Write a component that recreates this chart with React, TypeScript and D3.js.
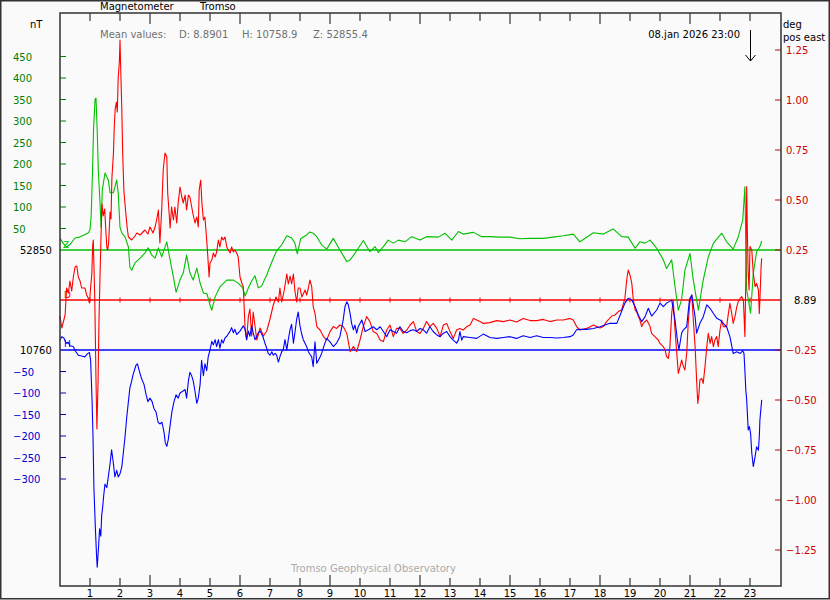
import React from 'react';
import * as d3 from 'd3';

// ---------- data ----------
const hourTicks: number[] = d3.range(1, 24);
const zTicks: number[] = [50, 100, 150, 200, 250, 300, 350, 400, 450];
const hTicks: number[] = [-50, -100, -150, -200, -250, -300];
const dTicks: number[] = [1.25, 1.0, 0.75, 0.5, 0.25, -0.25, -0.5, -0.75, -1.0, -1.25];

const zBaseline = '52850';
const hBaseline = '10760';
const dBaseline = '8.89';
const meanD = '8.8901';
const meanH = '10758.9';
const meanZ = '52855.4';
const stampText = '08.jan 2026 23:00';
const stampHour = 23;

// Z deviation from 52850 nT  [hour, nT]
const zSeries: [number, number][] = [
  [0, 28], [0.1, 16], [0.22, 7], [0.35, 14], [0.5, 28], [0.65, 30], [0.8, 35], [0.95, 40], [1, 47], [1.04, 81],
  [1.08, 174], [1.12, 284], [1.17, 351], [1.2, 353], [1.24, 279], [1.28, 179], [1.33, 116], [1.37, 53], [1.41, 140],
  [1.5, 179], [1.61, 163], [1.67, 133], [1.78, 133], [1.89, 163], [1.94, 133], [2, 53], [2.06, 40], [2.17, 30],
  [2.28, 7], [2.33, -40], [2.39, -47], [2.5, -30], [2.67, -19], [2.83, -7], [2.94, 5], [3.06, -12], [3.17, -19],
  [3.28, 5], [3.39, -16], [3.56, 19], [3.67, -23], [3.78, -63], [3.87, -98], [4, -70], [4.11, -53], [4.22, -12],
  [4.33, -53], [4.44, -70], [4.56, -42], [4.67, -77], [4.78, -100], [4.9, -102], [5, -128], [5.06, -140],
  [5.17, -109], [5.33, -86], [5.56, -70], [5.78, -70], [5.94, -77], [6.09, -88], [6.17, -107], [6.28, -88],
  [6.39, -72], [6.5, -60], [6.61, -88], [6.72, -84], [6.89, -58], [7.06, -28], [7.22, -2], [7.39, 12], [7.56, 33],
  [7.72, 28], [7.83, 16], [7.91, -9], [8.02, 26], [8.22, 35], [8.33, 42], [8.44, 39], [8.56, 31], [8.72, 12],
  [8.89, 2], [9.11, 27], [9.33, 0], [9.56, -27], [9.67, -23], [9.83, -8], [10.11, 22], [10.33, -4], [10.5, 8],
  [10.61, -6], [10.78, 8], [10.94, 23], [11.11, 16], [11.28, 23], [11.5, 19], [11.72, 31], [12, 23], [12.22, 31],
  [12.61, 30], [12.83, 39], [13.06, 23], [13.28, 43], [13.44, 37], [13.78, 41], [14.06, 31], [14.33, 31],
  [14.67, 30], [15, 30], [15.33, 26], [15.67, 27], [16.11, 27], [16.44, 30], [16.78, 33], [17.11, 37], [17.33, 19],
  [17.78, 40], [18.11, 37], [18.44, 49], [18.72, 31], [18.94, 30], [19.17, 4], [19.33, 19], [19.5, 16], [19.67, 23],
  [19.89, 4], [20.11, -23], [20.22, -43], [20.39, -23], [20.5, -85], [20.61, -140], [20.72, -116], [20.83, -47],
  [21, -8], [21.11, -70], [21.28, -140], [21.44, -70], [21.61, -16], [21.78, 16], [22.06, 39], [22.22, 19],
  [22.44, 2], [22.61, 31], [22.76, 70], [22.83, 147], [22.89, -93], [23.02, -147], [23.11, -54], [23.22, -4],
  [23.33, 8], [23.39, 21],
];

// D deviation from 8.89 deg [hour, deg]
const dSeries: [number, number][] = [
  [0, -0.08], [0.06, -0.14], [0.17, -0.075], [0.22, 0.06], [0.28, 0.035], [0.33, 0.095], [0.39, 0.045], [0.44, 0.11],
  [0.5, 0.165], [0.56, 0.17], [0.61, 0.115], [0.67, 0.095], [0.72, 0.06], [0.83, 0.06], [0.89, 0.025], [0.94, 0.01],
  [0.98, -0.015], [1.02, 0.06], [1.06, 0.13], [1.09, 0.275], [1.11, 0.3], [1.16, 0], [1.2, -0.4], [1.23, -0.645],
  [1.27, -0.4], [1.3, -0.1], [1.33, 0.095], [1.37, 0.335], [1.4, 0.48], [1.44, 0.42], [1.49, 0.455], [1.52, 0.37],
  [1.56, 0.265], [1.59, 0.25], [1.62, 0.285], [1.67, 0.44], [1.7, 0.405], [1.73, 0.61], [1.78, 0.73], [1.81, 0.87],
  [1.84, 0.955], [1.88, 0.99], [1.91, 0.94], [1.94, 1.11], [1.98, 1.195], [2, 1.3], [2.02, 1.18], [2.06, 0.955],
  [2.09, 0.73], [2.13, 0.545], [2.19, 0.44], [2.24, 0.36], [2.28, 0.315], [2.39, 0.3], [2.5, 0.32], [2.56, 0.335],
  [2.67, 0.325], [2.83, 0.35], [2.93, 0.33], [3, 0.365], [3.1, 0.335], [3.17, 0.365], [3.22, 0.4], [3.28, 0.45],
  [3.33, 0.285], [3.39, 0.45], [3.44, 0.65], [3.5, 0.735], [3.56, 0.715], [3.59, 0.535], [3.63, 0.45], [3.67, 0.36],
  [3.72, 0.465], [3.78, 0.4], [3.83, 0.465], [3.89, 0.385], [3.94, 0.485], [4, 0.565], [4.06, 0.515], [4.11, 0.485],
  [4.17, 0.525], [4.22, 0.45], [4.28, 0.525], [4.33, 0.515], [4.39, 0.465], [4.44, 0.425], [4.5, 0.385],
  [4.56, 0.415], [4.61, 0.365], [4.64, 0.55], [4.69, 0.6], [4.73, 0.485], [4.78, 0.4], [4.83, 0.415], [4.89, 0.3],
  [4.92, 0.235], [4.97, 0.115], [5, 0.185], [5.06, 0.2], [5.11, 0.235], [5.17, 0.215], [5.22, 0.24], [5.28, 0.3],
  [5.33, 0.265], [5.39, 0.315], [5.44, 0.3], [5.5, 0.315], [5.56, 0.265], [5.61, 0.25], [5.67, 0.235], [5.72, 0.265],
  [5.78, 0.24], [5.83, 0.25], [5.89, 0.235], [5.94, 0.215], [6, 0.115], [6.06, 0.085], [6.11, 0.065], [6.17, -0.145],
  [6.22, -0.2], [6.28, -0.08], [6.33, -0.045], [6.39, -0.18], [6.44, -0.06], [6.5, -0.13], [6.56, -0.2],
  [6.67, -0.14], [6.78, -0.18], [6.89, -0.155], [7, -0.095], [7.11, -0.025], [7.2, 0.015], [7.28, -0.01],
  [7.33, 0.06], [7.39, -0.01], [7.47, 0.045], [7.56, 0.13], [7.61, 0.08], [7.67, 0.12], [7.72, 0.08], [7.78, 0.13],
  [7.83, 0.045], [7.89, -0.01], [7.94, 0.06], [8, 0.06], [8.06, 0.015], [8.17, 0.05], [8.22, 0.025], [8.28, 0.06],
  [8.33, 0.1], [8.39, 0.067], [8.44, -0.033], [8.5, -0.067], [8.56, -0.133], [8.67, -0.15], [8.78, -0.183],
  [8.89, -0.2], [9, -0.158], [9.11, -0.133], [9.22, -0.142], [9.33, -0.125], [9.44, -0.133], [9.56, -0.167],
  [9.67, -0.258], [9.78, -0.233], [9.89, -0.258], [10, -0.2], [10.11, -0.133], [10.22, -0.083], [10.33, -0.108],
  [10.44, -0.158], [10.56, -0.167], [10.67, -0.2], [10.78, -0.208], [10.89, -0.15], [11, -0.125], [11.11, -0.183],
  [11.22, -0.142], [11.33, -0.142], [11.44, -0.167], [11.56, -0.15], [11.67, -0.125], [11.78, -0.108],
  [11.89, -0.158], [12, -0.167], [12.11, -0.142], [12.22, -0.108], [12.33, -0.133], [12.44, -0.117],
  [12.56, -0.142], [12.67, -0.183], [12.78, -0.125], [12.89, -0.117], [13, -0.158], [13.11, -0.192], [13.22, -0.15],
  [13.33, -0.142], [13.44, -0.15], [13.56, -0.133], [13.67, -0.125], [13.78, -0.092], [13.89, -0.1], [14, -0.108],
  [14.11, -0.117], [14.33, -0.113], [14.56, -0.103], [14.78, -0.108], [15, -0.1], [15.22, -0.11], [15.44, -0.092],
  [15.67, -0.103], [15.89, -0.103], [16.11, -0.097], [16.33, -0.108], [16.56, -0.1], [16.78, -0.1], [17, -0.092],
  [17.11, -0.1], [17.22, -0.133], [17.33, -0.15], [17.56, -0.142], [17.78, -0.125], [18, -0.14], [18.11, -0.133],
  [18.22, -0.108], [18.39, -0.08], [18.5, -0.075], [18.61, -0.058], [18.72, -0.05], [18.83, 0.008], [18.89, 0.1],
  [18.94, 0.15], [19, 0.125], [19.06, 0.083], [19.11, 0], [19.17, -0.05], [19.22, -0.058], [19.28, -0.083],
  [19.33, -0.1], [19.39, -0.133], [19.44, -0.117], [19.56, -0.1], [19.67, -0.133], [19.72, -0.167], [19.83, -0.183],
  [19.94, -0.2], [20, -0.217], [20.11, -0.233], [20.17, -0.25], [20.22, -0.283], [20.28, -0.292], [20.33, -0.233],
  [20.39, -0.067], [20.44, 0], [20.5, -0.15], [20.56, -0.267], [20.61, -0.367], [20.67, -0.333], [20.72, -0.3],
  [20.78, -0.333], [20.83, -0.35], [20.89, -0.267], [20.94, -0.117], [21, 0], [21.06, 0.025], [21.11, -0.1],
  [21.17, -0.233], [21.22, -0.4], [21.26, -0.517], [21.3, -0.467], [21.33, -0.4], [21.39, -0.392], [21.44, -0.417],
  [21.5, -0.333], [21.56, -0.233], [21.61, -0.167], [21.67, -0.217], [21.72, -0.183], [21.78, -0.233], [21.83, -0.2],
  [21.89, -0.183], [21.94, -0.233], [22, -0.15], [22.06, -0.1], [22.11, -0.133], [22.22, -0.133], [22.28, -0.067],
  [22.33, -0.017], [22.39, -0.067], [22.44, -0.117], [22.5, -0.083], [22.56, -0.033], [22.61, -0.008], [22.67, 0.008],
  [22.72, 0.017], [22.78, 0], [22.83, -0.183], [22.86, 0.1], [22.89, 0.567], [22.91, 0.35], [22.94, 0.133],
  [22.97, 0.05], [23, 0.267], [23.06, 0.25], [23.11, 0.133], [23.17, 0.067], [23.22, 0.083], [23.28, 0.05],
  [23.31, -0.067], [23.33, 0], [23.37, 0.167], [23.39, 0.208],
];

// H deviation from 10760 nT [hour, nT]
const hSeries: [number, number][] = [
  [0, 23], [0.06, 31], [0.13, 28], [0.2, 16], [0.28, 18], [0.33, 10], [0.44, 8], [0.53, -4], [0.61, -12], [0.72, -14],
  [0.83, -16], [0.91, -9], [0.98, -6], [1.02, -23], [1.07, -120], [1.1, -200], [1.13, -320], [1.18, -416],
  [1.22, -480], [1.24, -505], [1.28, -464], [1.32, -416], [1.36, -433], [1.39, -384], [1.42, -367], [1.46, -336],
  [1.5, -312], [1.56, -320], [1.61, -295], [1.67, -264], [1.72, -232], [1.78, -264], [1.83, -295], [1.89, -280],
  [1.94, -295], [2, -288], [2.06, -272], [2.11, -240], [2.17, -200], [2.22, -160], [2.28, -120], [2.33, -88],
  [2.39, -72], [2.44, -56], [2.53, -36], [2.58, -32], [2.64, -48], [2.72, -67], [2.8, -80], [2.87, -104],
  [2.93, -120], [3, -112], [3.07, -120], [3.13, -136], [3.2, -144], [3.27, -168], [3.33, -172], [3.4, -168],
  [3.47, -192], [3.51, -216], [3.56, -224], [3.61, -208], [3.67, -176], [3.73, -144], [3.8, -120], [3.87, -104],
  [3.94, -112], [4, -100], [4.09, -96], [4.17, -92], [4.22, -112], [4.28, -72], [4.33, -52], [4.39, -60],
  [4.44, -72], [4.5, -96], [4.56, -124], [4.61, -112], [4.67, -80], [4.72, -24], [4.78, -60], [4.83, -32],
  [4.89, -48], [4.94, -16], [5, 0], [5.06, 20], [5.11, 12], [5.17, 24], [5.22, 8], [5.28, 24], [5.33, 4], [5.39, 24],
  [5.44, 16], [5.5, 28], [5.56, 32], [5.67, 44], [5.72, 52], [5.78, 40], [5.83, 48], [5.89, 36], [6, 44],
  [6.11, 56], [6.17, 48], [6.22, 24], [6.28, 44], [6.33, 32], [6.39, 56], [6.44, 40], [6.5, 24], [6.56, 32],
  [6.61, 40], [6.67, 44], [6.76, 32], [6.83, 16], [6.89, 4], [6.94, -8], [7, -12], [7.06, -4], [7.11, -12],
  [7.17, -8], [7.22, -12], [7.28, -28], [7.33, -16], [7.39, -4], [7.44, 0], [7.5, 24], [7.56, 0], [7.61, 24],
  [7.67, 48], [7.72, 60], [7.78, 16], [7.83, 40], [7.89, 72], [7.94, 88], [8, 56], [8.06, 36], [8.11, 24],
  [8.22, 8], [8.28, -4], [8.33, -10], [8.39, -16], [8.44, -39], [8.5, 19], [8.56, -31], [8.67, -16], [8.72, -8],
  [8.83, 16], [8.89, 27], [9, 19], [9.11, 8], [9.22, 16], [9.33, 31], [9.44, 70], [9.5, 101], [9.56, 112],
  [9.61, 105], [9.67, 85], [9.72, 62], [9.78, 47], [9.83, 58], [9.89, 39], [9.94, 54], [10.06, 70], [10.17, 43],
  [10.28, 47], [10.44, 54], [10.56, 47], [10.67, 54], [10.78, 43], [10.89, 31], [11, 47], [11.11, 43], [11.22, 39],
  [11.33, 54], [11.44, 43], [11.56, 40], [11.67, 45], [11.78, 47], [11.89, 43], [12, 50], [12.11, 47], [12.22, 39],
  [12.33, 54], [12.44, 43], [12.56, 35], [12.67, 31], [12.78, 39], [12.89, 43], [13, 31], [13.11, 23], [13.22, 16],
  [13.28, 23], [13.33, 43], [13.39, 23], [13.44, 31], [13.67, 29], [13.89, 27], [14.11, 37], [14.33, 29],
  [14.56, 27], [14.78, 29], [15, 31], [15.22, 27], [15.44, 33], [15.67, 29], [15.89, 33], [16.11, 29], [16.33, 29],
  [16.56, 28], [16.78, 29], [17, 31], [17.11, 35], [17.22, 47], [17.33, 48], [17.56, 48], [17.78, 50], [18, 54],
  [18.33, 62], [18.56, 62], [18.67, 81], [18.83, 109], [18.94, 120], [19.06, 116], [19.17, 101], [19.28, 81],
  [19.39, 66], [19.5, 77], [19.61, 97], [19.72, 79], [19.89, 93], [20, 109], [20.11, 101], [20.22, 109],
  [20.39, 116], [20.5, 70], [20.58, 23], [20.63, 0], [20.72, 39], [20.78, 47], [20.89, 54], [20.98, 116],
  [21.06, 128], [21.17, 77], [21.22, 39], [21.33, 62], [21.44, 77], [21.56, 105], [21.67, 97], [21.78, 85],
  [21.89, 74], [22, 70], [22.11, 62], [22.22, 54], [22.33, 31], [22.44, -8], [22.56, -4], [22.67, -8], [22.76, -2],
  [22.8, -8], [22.83, -47], [22.86, -93], [22.89, -116], [22.94, -186], [22.98, -178], [23.02, -194], [23.06, -240],
  [23.11, -271], [23.17, -248], [23.22, -225], [23.28, -233], [23.31, -202], [23.33, -163], [23.39, -116],
];

// ---------- layout ----------
const W = 830;
const H = 600;
const left = 60;
const right = 781;
const top = 13;
const bottom = 586;

const x = d3.scaleLinear().domain([0, 24]).range([60, 780]);
const yZ = d3.scaleLinear().domain([0, 450]).range([250, 56.5]);
const yH = d3.scaleLinear().domain([0, -300]).range([350, 479]);
const yD = d3.scaleLinear().domain([0, 1]).range([300, 100]);

const FONT = 'DejaVu Sans, sans-serif';
const GREEN = '#00c000';
const GREEN_TXT = '#008000';
const RED = '#ff0000';
const RED_TXT = '#d00000';
const BLUE = '#0000ff';
const BLUE_TXT = '#0000d0';
const FRAME = '#333333';

const fmtD = d3.format('.2f');

export default function App() {
  const lineZ = d3.line<[number, number]>().x((d) => x(d[0])).y((d) => yZ(d[1]));
  const lineD = d3.line<[number, number]>().x((d) => x(d[0])).y((d) => yD(d[1]));
  const lineH = d3.line<[number, number]>().x((d) => x(d[0])).y((d) => yH(d[1]));

  return (
    <div style={{ position: 'absolute', left: 0, top: 0 }}>
      <svg width={W} height={H} style={{ display: 'block', fontFamily: FONT }}>
        <rect x={0} y={0} width={W} height={H} fill="#fafafa" />
        <rect x={0.75} y={0.75} width={W - 1.5} height={H - 2} fill="none" stroke={FRAME} strokeWidth={1.5} />

        {/* titles */}
        <text x={100} y={10} fontSize={10} fill="#000">Magnetometer</text>
        <text x={200} y={10} fontSize={10} fill="#000">Tromso</text>
        <text x={30} y={28} fontSize={10} fill="#000">nT</text>
        <text x={783} y={28} fontSize={10} fill="#000">deg</text>
        <text x={783} y={41} fontSize={10} fill="#000">pos east</text>

        <text x={100} y={38} fontSize={10} fill="#707070">Mean values:</text>
        <text x={179} y={38} fontSize={10} fill="#707070">{`D: ${meanD}`}</text>
        <text x={242} y={38} fontSize={10} fill="#707070">{`H: ${meanH}`}</text>
        <text x={313} y={38} fontSize={10} fill="#707070">{`Z: ${meanZ}`}</text>
        <text x={740} y={38} fontSize={10} fill="#000" textAnchor="end">{stampText}</text>

        {/* arrow at stamp hour */}
        <g stroke="#000" strokeWidth={1} fill="none">
          <line x1={x(stampHour) + 0.5} y1={30} x2={x(stampHour) + 0.5} y2={61} />
          <polyline points={`${x(stampHour) - 4.5},55 ${x(stampHour) + 0.5},61 ${x(stampHour) + 5.5},55`} />
        </g>

        <text x={291} y={572} fontSize={10} fill="#aaaaaa">Tromso Geophysical Observatory</text>

        {/* baselines */}
        <line x1={left} x2={right} y1={yZ(0)} y2={yZ(0)} stroke={GREEN} strokeWidth={1.3} />
        <line x1={left} x2={right} y1={yD(0)} y2={yD(0)} stroke={RED} strokeWidth={1.3} />
        <line x1={left} x2={right} y1={yH(0)} y2={yH(0)} stroke={BLUE} strokeWidth={1.3} />
        {hourTicks.map((h) => (
          <line key={'rt' + h} x1={x(h)} x2={x(h)} y1={yD(0) - 2.5} y2={yD(0) + 2.5} stroke={RED} strokeWidth={1} />
        ))}

        {/* traces */}
        <path d={lineZ(zSeries) || ''} fill="none" stroke={GREEN} strokeWidth={1.1} strokeLinejoin="round" />
        <path d={lineD(dSeries) || ''} fill="none" stroke={RED} strokeWidth={1.1} strokeLinejoin="round" />
        <path d={lineH(hSeries) || ''} fill="none" stroke={BLUE} strokeWidth={1.1} strokeLinejoin="round" />

        {/* trace markers */}
        <text x={63} y={248} fontSize={9} fill={GREEN}>Z</text>
        <text x={64} y={298} fontSize={9} fill={RED}>D</text>
        <text x={64} y={347} fontSize={9} fill={BLUE}>H</text>

        {/* left axis: Z */}
        {zTicks.map((v) => (
          <g key={'z' + v}>
            <line x1={left} x2={left + 6} y1={yZ(v)} y2={yZ(v)} stroke={GREEN_TXT} strokeWidth={1} />
            <text x={13} y={yZ(v) + 4} fontSize={10} fill={GREEN_TXT}>{v}</text>
          </g>
        ))}
        <text x={20} y={yZ(0) + 4} fontSize={10} fill="#000">{zBaseline}</text>

        {/* left axis: H */}
        {hTicks.map((v) => (
          <g key={'h' + v}>
            <line x1={left} x2={left + 6} y1={yH(v)} y2={yH(v)} stroke={BLUE_TXT} strokeWidth={1} />
            <text x={13} y={yH(v) + 4} fontSize={10} fill={BLUE_TXT}>{fmtD(v).replace('.00', '')}</text>
          </g>
        ))}
        <text x={20} y={yH(0) + 4} fontSize={10} fill="#000">{hBaseline}</text>

        {/* right axis: D */}
        {dTicks.map((v) => (
          <g key={'d' + v}>
            <line x1={right - 6} x2={right} y1={yD(v)} y2={yD(v)} stroke={RED_TXT} strokeWidth={1} />
            <text x={786} y={yD(v) + 4} fontSize={10} fill={RED_TXT}>{fmtD(v)}</text>
          </g>
        ))}
        <text x={794} y={yD(0) + 4} fontSize={10} fill="#000">{dBaseline}</text>

        {/* frame */}
        <rect x={left} y={top} width={right - left} height={bottom - top} fill="none" stroke={FRAME} strokeWidth={1.5} />

        {/* hour ticks top & bottom */}
        {hourTicks.map((h) => {
          const len = h % 3 === 0 ? 11 : 8;
          return (
            <g key={'ht' + h}>
              <line x1={x(h)} x2={x(h)} y1={top} y2={top + len} stroke={FRAME} strokeWidth={1.2} />
              <line x1={x(h)} x2={x(h)} y1={bottom - len} y2={bottom} stroke={FRAME} strokeWidth={1.2} />
              <text x={x(h)} y={597} fontSize={10} fill="#000" textAnchor="middle">{h}</text>
            </g>
          );
        })}
      </svg>
    </div>
  );
}
